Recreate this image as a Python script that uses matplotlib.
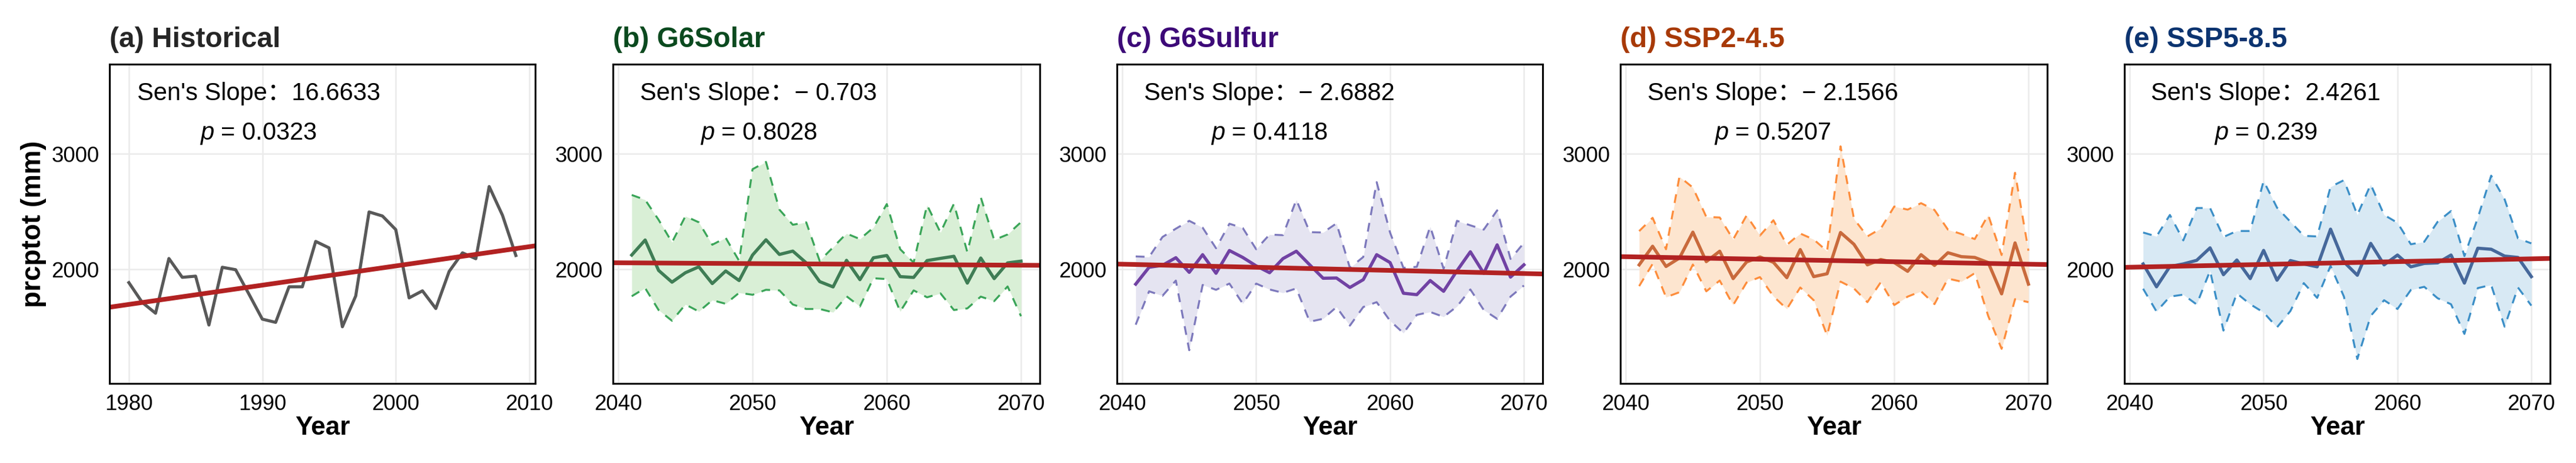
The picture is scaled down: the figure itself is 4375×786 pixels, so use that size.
import numpy as np
import matplotlib
matplotlib.use('Agg')
import matplotlib.pyplot as plt

# ---------------- data ----------------
years_hist = list(range(1980, 2010))
hist_vals = [1885, 1714, 1620, 2094, 1931, 1941, 1518, 2018, 1997, 1785,
             1569, 1541, 1849, 1849, 2242, 2186, 1503, 1770, 2497, 2462,
             2344, 1753, 1814, 1661, 1982, 2143, 2092, 2717, 2467, 2120]

years_fut = list(range(2041, 2071))

solar_mean = [2124, 2254, 1991, 1889, 1971, 2022, 1877, 1986, 1903, 2124,
              2256, 2129, 2158, 2056, 1894, 1848, 2078, 1911, 2100, 2120,
              1937, 1930, 2076, 2095, 2113, 1881, 2098, 1920, 2056, 2071]
solar_upper = [2644, 2602, 2429, 2234, 2460, 2407, 2213, 2273, 2073, 2867,
               2930, 2517, 2386, 2407, 2073, 2191, 2310, 2262, 2361, 2565,
               2174, 2059, 2556, 2319, 2568, 2149, 2624, 2254, 2302, 2409]
solar_lower = [1767, 1838, 1648, 1555, 1696, 1635, 1733, 1702, 1797, 1780,
               1823, 1818, 1696, 1657, 1657, 1628, 1767, 1679, 1923, 1916,
               1635, 1818, 1758, 1792, 1648, 1662, 1764, 1725, 1852, 1594]

sulfur_mean = [1872, 2018, 2035, 2101, 1974, 2127, 1966, 2163, 2103, 2030,
               1971, 2093, 2157, 2039, 1923, 1925, 1843, 1911, 2127, 2059,
               1793, 1781, 1903, 1810, 1988, 2152, 1966, 2212, 1933, 2039]
sulfur_upper = [2112, 2107, 2280, 2352, 2420, 2361, 2183, 2395, 2358, 2174,
                2301, 2296, 2602, 2322, 2319, 2398, 2013, 2107, 2755, 2319,
                2013, 2022, 2370, 2005, 2420, 2381, 2344, 2511, 2090, 2229]
sulfur_lower = [1521, 1810, 1771, 1903, 1300, 1865, 1823, 1877, 1703, 1877,
                1826, 1797, 1835, 1547, 1572, 1674, 1513, 1674, 1716, 1555,
                1448, 1606, 1631, 1589, 1679, 1826, 1648, 1572, 1764, 1860]

ssp245_mean = [2039, 2200, 2025, 2098, 2322, 2067, 2157, 1920, 2064, 2107,
               2061, 1928, 2171, 1937, 1962, 2319, 2217, 2039, 2085, 2059,
               1983, 2127, 2034, 2144, 2110, 2103, 2059, 1788, 2229, 1872]
ssp245_upper = [2331, 2446, 2174, 2802, 2708, 2454, 2449, 2259, 2466, 2293,
                2425, 2212, 2310, 2259, 2157, 3065, 2437, 2285, 2353, 2544,
                2517, 2573, 2514, 2344, 2306, 2262, 2471, 2124, 2836, 2161]
ssp245_lower = [1855, 2047, 1759, 1802, 2042, 1810, 1903, 1691, 1886, 1933,
                1767, 1657, 1843, 1733, 1428, 1894, 1835, 1716, 1889, 1691,
                1764, 1810, 1699, 1920, 1894, 1967, 1597, 1312, 1742, 1716]

ssp585_mean = [2047, 1849, 2025, 2047, 2078, 2186, 1954, 2081, 1920, 2164,
               1906, 2076, 2047, 2022, 2348, 2064, 1949, 2225, 2039, 2124,
               2022, 2051, 2056, 2124, 1881, 2183, 2174, 2115, 2103, 1937]
ssp585_upper = [2319, 2285, 2471, 2251, 2531, 2531, 2280, 2332, 2332, 2765,
                2534, 2412, 2290, 2285, 2714, 2772, 2471, 2735, 2471, 2403,
                2217, 2239, 2412, 2505, 2115, 2446, 2811, 2607, 2268, 2225]
ssp585_lower = [1832, 1635, 1764, 1781, 1696, 1988, 1470, 1792, 1698, 1627,
                1498, 1639, 1881, 1753, 2030, 1764, 1224, 1597, 1733, 1657,
                1822, 1849, 1750, 1698, 1441, 1838, 1865, 1504, 1843, 1686]

titles = ['(a) Historical', '(b) G6Solar', '(c) G6Sulfur', '(d) SSP2-4.5', '(e) SSP5-8.5']
sen_slopes = [16.6633, -0.703, -2.6882, -2.1566, 2.4261]
sen_labels = ['16.6633', '− 0.703', '− 2.6882', '− 2.1566', '2.4261']
p_labels = ['0.0323', '0.8028', '0.4118', '0.5207', '0.239']
trend_mid_value = [1938, 2046, 2003, 2076, 2056]
hist_ticks = [1980, 1990, 2000, 2010]
fut_ticks = [2040, 2050, 2060, 2070]
y_ticks = [2000, 3000]

# ---------------- style ----------------
plt.rcParams['font.family'] = ['Liberation Sans', 'Noto Sans CJK SC', 'DejaVu Sans']
plt.rcParams['mathtext.fontset'] = 'custom'
plt.rcParams['mathtext.it'] = 'Liberation Sans:italic'
plt.rcParams['mathtext.rm'] = 'Liberation Sans'

title_colors = ['#262626', '#0b4a1f', '#3d0a78', '#a83a08', '#0c3470']
mean_colors = [None, '#3f7d55', '#7142a3', '#c96a3c', '#46689b']
band_colors = [None, '#3ba559', '#7d79bc', '#fd8d3c', '#3c8fc7']
fill_colors = [None, '#d9efd6', '#e5e4f1', '#fde5cf', '#d8e9f4']
trend_color = '#b22222'

W, H = 4375, 786
fig = plt.figure(figsize=(W / 300, H / 300), dpi=300)

lefts = [186, 1041, 1897, 2752, 3608]
rights = [909, 1766, 2620, 3477, 4331]
top_px, bot_px = 109, 651
sen_x = [0.35, 0.341, 0.358, 0.357, 0.332]

bands = [None,
         (solar_mean, solar_upper, solar_lower),
         (sulfur_mean, sulfur_upper, sulfur_lower),
         (ssp245_mean, ssp245_upper, ssp245_lower),
         (ssp585_mean, ssp585_upper, ssp585_lower)]

for i in range(5):
    ax = fig.add_axes([lefts[i] / W, 1 - bot_px / H,
                       (rights[i] - lefts[i]) / W, (bot_px - top_px) / H])
    if i == 0:
        xs = years_hist
        ax.plot(xs, hist_vals, color='#595959', lw=1.25, zorder=3)
        xlim = (1978.55, 2010.45)
        ax.set_xticks(hist_ticks)
    else:
        xs = years_fut
        m, u, l = bands[i]
        ax.fill_between(xs, l, u, color=fill_colors[i], lw=0, zorder=1)
        ax.plot(xs, u, color=band_colors[i], lw=0.8, dashes=(4.5, 4), zorder=2)
        ax.plot(xs, l, color=band_colors[i], lw=0.8, dashes=(4.5, 4), zorder=2)
        ax.plot(xs, m, color=mean_colors[i], lw=1.3, zorder=3)
        xlim = (2039.6, 2071.4)
        ax.set_xticks(fut_ticks)
    xmid = (xlim[0] + xlim[1]) / 2
    tx = np.array(xlim)
    ty = trend_mid_value[i] + sen_slopes[i] * (tx - xmid)
    ax.plot(tx, ty, color=trend_color, lw=1.9, zorder=4, solid_capstyle='butt')

    ax.set_xlim(*xlim)
    ax.set_ylim(1012, 3776)
    ax.set_yticks(y_ticks)
    ax.grid(True, color='#ebebeb', lw=0.6, zorder=0)
    ax.set_axisbelow(True)
    ax.tick_params(length=0, labelsize=8.8, pad=4.2, colors='black')
    for s in ax.spines.values():
        s.set_linewidth(0.75)
        s.set_color('black')
        s.set_zorder(5)

    ax.text(0, 1.053, titles[i], transform=ax.transAxes, ha='left', va='baseline',
            fontsize=11.5, fontweight='bold', color=title_colors[i])
    ax.text(sen_x[i], 0.907, "Sen's Slope：" + sen_labels[i], transform=ax.transAxes,
            ha='center', va='center', fontsize=10, color='black')
    ax.text(sen_x[i], 0.783, r'$p$ = ' + p_labels[i], transform=ax.transAxes,
            ha='center', va='center', fontsize=10, color='black')

    ax.set_xlabel('Year', fontsize=10.6, fontweight='bold')
    ax.xaxis.set_label_coords(0.5, -0.14)
    ax.xaxis.label.set_va('center')
    if i == 0:
        ax.set_ylabel('prcptot (mm)', fontsize=11, fontweight='bold')
        ax.yaxis.set_label_coords(-(186 - 57) / (rights[0] - lefts[0]), 0.5)
        ax.yaxis.label.set_va('center')

fig.savefig('out.png', dpi=300, facecolor='white')
